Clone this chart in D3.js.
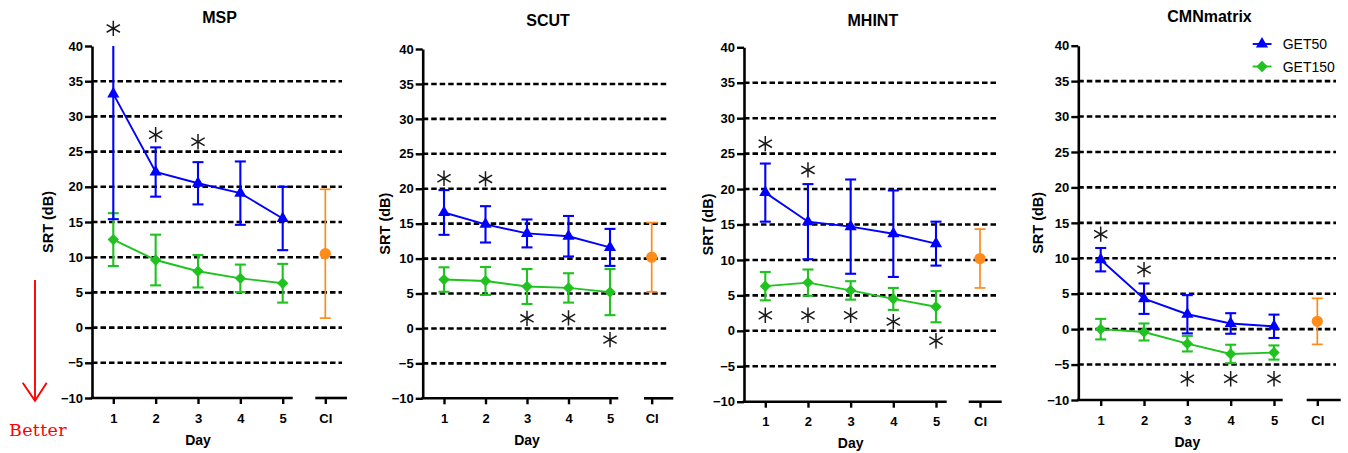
<!DOCTYPE html>
<html>
<head>
<meta charset="utf-8">
<script src="https://cdn.jsdelivr.net/npm/d3@7"></script>
<style>
  body { margin: 0; background: #fff; }
  svg { display: block; font-family: "Liberation Sans", Arial, sans-serif; }
</style>
</head>
<body>
<div id="chart"></div>
<script>
// ---------------- data ----------------
const tests = ["MSP", "SCUT", "MHINT", "CMNmatrix"];
const days = [1, 2, 3, 4, 5];
const yTicks = [-10, -5, 0, 5, 10, 15, 20, 25, 30, 35, 40];
const gridValues = [-5, 0, 5, 10, 15, 20, 25, 30, 35];
const seriesNames = ["GET50", "GET150"];

// mean SRT and error (dB), per day
const msp50 = [33.2, 22.1, 20.5, 19.1, 15.5];
const msp50Err = [17.8, 3.5, 3.0, 4.5, 4.5];
const msp150 = [12.5, 9.6, 8.0, 7.0, 6.3];
const msp150Err = [3.75, 3.6, 2.3, 1.95, 2.75];

const scut50 = [16.6, 14.9, 13.6, 13.2, 11.6];
const scut50Err = [3.2, 2.6, 2.0, 2.9, 2.65];
const scut150 = [7.0, 6.8, 6.0, 5.8, 5.2];
const scut150Err = [1.75, 2.0, 2.5, 2.1, 3.3];

const mhint50 = [19.5, 15.4, 14.7, 13.7, 12.3];
const mhint50Err = [4.1, 5.3, 6.65, 6.1, 3.1];
const mhint150 = [6.3, 6.8, 5.7, 4.5, 3.4];
const mhint150Err = [2.0, 1.85, 1.3, 1.55, 2.2];

const cmn50 = [9.8, 4.3, 2.1, 0.8, 0.4];
const cmn50Err = [1.65, 2.15, 2.7, 1.45, 1.65];
const cmn150 = [0.0, -0.4, -2.05, -3.5, -3.3];
const cmn150Err = [1.45, 1.2, 1.1, 1.3, 1.0];

// CI reference group: mean, error
const ciMean = [10.5, 10.2, 10.2, 1.1];
const ciErr = [9.15, 4.95, 4.15, 3.25];

// significance stars: [day, y position in dB]
const mspStars = [[1, 42.5], [2, 27.4], [3, 26.4]];
const scutStars = [[1, 21.5], [2, 21.4], [3, 1.45], [4, 1.5], [5, -1.6]];
const mhintStars = [[1, 26.4], [2, 22.7], [1, 2.2], [2, 2.2], [3, 2.2], [4, 1.3], [5, -1.4]];
const cmnStars = [[1, 13.4], [2, 8.4], [3, -7.0], [4, -7.0], [5, -7.0]];

// ---------------- layout ----------------
const W = 1348, H = 453;
const colors = { GET50: "#0000ff", GET150: "#1fc21f", CI: "#ff8c1a" };

const layout = [
    { ax: 92, x1: 113.3, x5: 282.7, seg1: 292.7, seg2a: 315.3, ci: 325.3, seg2b: 347, gridEnd: 342, top: 46, bot: 398, titleY: 17, ylabX: 48 },
    { ax: 422.7, x1: 444, x5: 610, seg1: 618.3, seg2a: 644, ci: 651.7, seg2b: 673.3, gridEnd: 668.3, top: 49, bot: 398.3, titleY: 20, ylabX: 385 },
    { ax: 744, x1: 765.3, x5: 936, seg1: 946.7, seg2a: 968.7, ci: 980, seg2b: 1001.7, gridEnd: 997.3, top: 47.3, bot: 401.7, titleY: 20, ylabX: 708 },
    { ax: 1078.3, x1: 1100.7, x5: 1274, seg1: 1282.7, seg2a: 1306.7, ci: 1317.3, seg2b: 1340.7, gridEnd: 1336, top: 45.7, bot: 400, titleY: 16.7, ylabX: 1038 }
];

const panels = [
    { GET50: [msp50, msp50Err], GET150: [msp150, msp150Err], stars: mspStars },
    { GET50: [scut50, scut50Err], GET150: [scut150, scut150Err], stars: scutStars },
    { GET50: [mhint50, mhint50Err], GET150: [mhint150, mhint150Err], stars: mhintStars },
    { GET50: [cmn50, cmn50Err], GET150: [cmn150, cmn150Err], stars: cmnStars }
];

const svg = d3.select("#chart").append("svg")
    .attr("width", W)
    .attr("height", H);

const triangle = d3.symbol().type(d3.symbolTriangle).size(64);
const diamond = d3.symbol().type(d3.symbolSquare).size(64);
const circle = d3.symbol().type(d3.symbolCircle).size(100);
const star = d3.symbol().type(d3.symbolAsterisk).size(165);

function marker(g, name, x, y) {
    if (name == "GET50") {
        g.append("path").attr("d", triangle)
            .attr("transform", `translate(${x},${y})`)
            .attr("fill", colors.GET50);
    } else {
        g.append("path").attr("d", diamond)
            .attr("transform", `translate(${x},${y}) rotate(45)`)
            .attr("fill", colors.GET150);
    }
}

function errorBar(g, x, y, mean, err, color, width) {
    const hi = mean + err, lo = mean - err;
    const top = Math.min(hi, 40);
    g.append("line")
        .attr("x1", x).attr("x2", x)
        .attr("y1", y(lo)).attr("y2", y(top))
        .attr("stroke", color).attr("stroke-width", width);
    g.append("line")
        .attr("x1", x - 5.5).attr("x2", x + 5.5)
        .attr("y1", y(lo)).attr("y2", y(lo))
        .attr("stroke", color).attr("stroke-width", width);
    if (hi <= 40) {
        g.append("line")
            .attr("x1", x - 5.5).attr("x2", x + 5.5)
            .attr("y1", y(hi)).attr("y2", y(hi))
            .attr("stroke", color).attr("stroke-width", width);
    }
}

tests.forEach((name, i) => {
    const L = layout[i], P = panels[i];
    const g = svg.append("g");

    const y = d3.scaleLinear().domain([-10, 40]).range([L.bot, L.top]);
    const x = d3.scaleLinear().domain([1, 5]).range([L.x1, L.x5]);
    const xci = d3.scalePoint().domain(["CI"]).range([L.ci, L.ci]);

    // dashed gridlines
    g.append("g").selectAll("line")
        .data(gridValues)
        .join("line")
        .attr("x1", L.ax).attr("x2", L.gridEnd)
        .attr("y1", d => y(d)).attr("y2", d => y(d))
        .attr("stroke", "#000")
        .attr("stroke-width", 2.6)
        .attr("stroke-dasharray", "5.5,3");

    // y axis
    const yAxis = g.append("g")
        .attr("transform", `translate(${L.ax},0)`)
        .call(d3.axisLeft(y).tickValues(yTicks).tickSize(7).tickSizeOuter(0).tickPadding(2));
    yAxis.select(".domain").attr("stroke-width", 2.6);
    yAxis.selectAll(".tick line").attr("stroke-width", 2.4);
    yAxis.selectAll(".tick text")
        .attr("font-size", "13px").attr("font-weight", "bold")
        .attr("font-family", "Liberation Sans, Arial, sans-serif").attr("fill", "#000");

    // x axis, broken into days and CI
    const xAxis = g.append("g")
        .attr("transform", `translate(0,${L.bot})`)
        .call(d3.axisBottom(x).tickValues(days).tickFormat(d3.format("d")).tickSize(6).tickPadding(9.5));
    const ciAxis = g.append("g")
        .attr("transform", `translate(0,${L.bot})`)
        .call(d3.axisBottom(xci).tickSize(6).tickPadding(9.5));
    [xAxis, ciAxis].forEach(a => {
        a.select(".domain").remove();
        a.selectAll(".tick line").attr("stroke-width", 2.4);
        a.selectAll(".tick text")
            .attr("font-size", "13px").attr("font-weight", "bold")
            .attr("font-family", "Liberation Sans, Arial, sans-serif").attr("fill", "#000");
    });
    g.append("line")
        .attr("x1", L.ax - 1.3).attr("x2", L.seg1)
        .attr("y1", L.bot).attr("y2", L.bot)
        .attr("stroke", "#000").attr("stroke-width", 2.6);
    g.append("line")
        .attr("x1", L.seg2a).attr("x2", L.seg2b)
        .attr("y1", L.bot).attr("y2", L.bot)
        .attr("stroke", "#000").attr("stroke-width", 2.6);

    // titles
    g.append("text")
        .attr("x", (L.ax + L.seg2b) / 2).attr("y", L.titleY)
        .attr("text-anchor", "middle").attr("dominant-baseline", "central")
        .attr("font-size", "16px").attr("font-weight", "bold")
        .text(name);
    g.append("text")
        .attr("transform", `translate(${L.ylabX},${(L.top + L.bot) / 2}) rotate(-90)`)
        .attr("text-anchor", "middle").attr("dominant-baseline", "central")
        .attr("font-size", "14.5px").attr("font-weight", "bold")
        .text("SRT (dB)");
    g.append("text")
        .attr("x", (L.x1 + L.x5) / 2).attr("y", L.bot + 41.5)
        .attr("text-anchor", "middle").attr("dominant-baseline", "central")
        .attr("font-size", "14px").attr("font-weight", "bold")
        .text("Day");

    // series: GET150 first, GET50 on top
    ["GET150", "GET50"].forEach(s => {
        const [mean, err] = P[s];
        const sg = g.append("g");
        sg.append("path")
            .datum(days)
            .attr("d", d3.line().x(d => x(d)).y((d, j) => y(mean[j])))
            .attr("fill", "none")
            .attr("stroke", colors[s])
            .attr("stroke-width", 1.9);
        days.forEach((d, j) => errorBar(sg, x(d), y, mean[j], err[j], colors[s], 2.1));
        days.forEach((d, j) => marker(sg, s, x(d), y(mean[j])));
    });

    // CI
    errorBar(g, xci("CI"), y, ciMean[i], ciErr[i], colors.CI, 1.7);
    g.append("path").attr("d", circle)
        .attr("transform", `translate(${xci("CI")},${y(ciMean[i])})`)
        .attr("fill", colors.CI);

    // significance stars
    g.append("g").selectAll("path")
        .data(P.stars)
        .join("path")
        .attr("d", star)
        .attr("transform", d => `translate(${x(d[0])},${y(d[1])})`)
        .attr("fill", "none")
        .attr("stroke", "#1a1a1a")
        .attr("stroke-width", 1.5);

    // legend in last panel
    if (i == 3) {
        seriesNames.forEach((s, k) => {
            const ly = 44 + k * 22.5;
            g.append("line")
                .attr("x1", 1252.7).attr("x2", 1271.5)
                .attr("y1", ly).attr("y2", ly)
                .attr("stroke", colors[s]).attr("stroke-width", 1.9);
            marker(g, s, 1262, ly);
            g.append("text")
                .attr("x", 1282.7).attr("y", ly)
                .attr("dominant-baseline", "central")
                .attr("font-size", "14px")
                .text(s);
        });
    }
});

// "Better" arrow
const arrow = svg.append("g").attr("stroke", "#ff0000").attr("stroke-width", 1.9).attr("fill", "none");
arrow.append("line").attr("x1", 35).attr("x2", 35).attr("y1", 280).attr("y2", 400);
arrow.append("path").attr("d", "M22.7,382.7 L35,400.7 L46.7,382.7");
svg.append("text")
    .attr("x", 9).attr("y", 436)
    .attr("font-family", "DejaVu Serif, serif")
    .attr("font-size", "17.5px")
    .attr("letter-spacing", "0.3px")
    .attr("fill", "#ff0000")
    .text("Better");
</script>
</body>
</html>
